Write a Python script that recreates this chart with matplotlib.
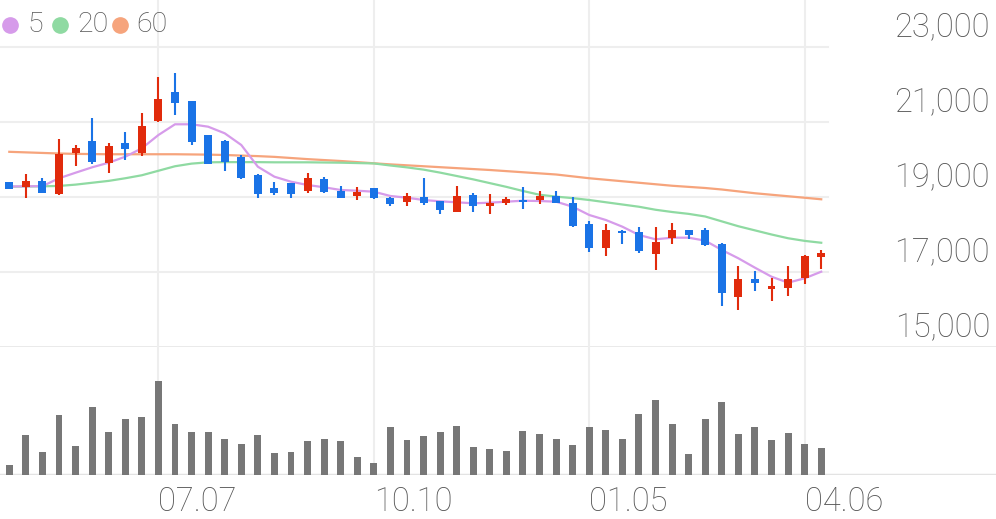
import numpy as np
import matplotlib
matplotlib.use("Agg")
import matplotlib.pyplot as plt

plt.rcParams['font.family'] = ['Roboto', 'DejaVu Sans']

# weekly candles
opens = [19392, 19267, 19435, 19072, 20181, 20501, 19915, 20448, 20181, 21027,
         21808, 21552, 20653, 20501, 20059, 19587, 19248, 19365, 19160, 19472,
         19168, 19027, 19232, 18981, 18875, 18992, 18893, 18608, 19053, 18768,
         18832, 18928, 18920, 19027, 18832, 18272, 17632, 18101, 18075, 17480,
         17915, 18120, 18120, 17747, 16341, 16813, 16539, 16581, 16832, 17408]
highs = [19400, 19605, 19499, 20539, 20387, 21099, 20432, 20725, 21232, 22192,
         22299, 21560, 20660, 20510, 20120, 19600, 19408, 19370, 19632, 19525,
         19301, 19275, 19240, 18990, 19099, 19499, 18900, 19293, 19099, 19080,
         19000, 19275, 19160, 19160, 19008, 18368, 18280, 18110, 18192, 18208,
         18299, 18125, 18165, 17760, 17160, 17035, 16832, 17168, 17440, 17587]
lows = [19200, 18973, 19100, 19053, 19827, 19880, 19648, 19987, 20093, 21008,
        21187, 20387, 19870, 19693, 19480, 18965, 19053, 18981, 19099, 19110,
        18965, 18920, 18947, 18760, 18760, 18787, 18547, 18600, 18608, 18547,
        18787, 18672, 18813, 18840, 18200, 17525, 17427, 17747, 17499, 17053,
        17747, 17880, 17693, 16093, 15987, 16501, 16235, 16360, 16680, 17080]
closes = [19213, 19435, 19115, 20147, 20315, 19933, 20368, 20280, 20901, 21605,
          21499, 20467, 19880, 19941, 19499, 19080, 19115, 19080, 19499, 19125,
          18981, 19141, 18981, 18805, 19027, 18848, 18653, 19035, 18768, 18832,
          18939, 18875, 19035, 18848, 18227, 17632, 18120, 18048, 17568, 17808,
          18120, 17987, 17720, 16432, 16821, 16699, 16619, 16805, 17427, 17515]
volumes = [103, 400, 230, 600, 290, 677, 427, 560, 580, 937,
           510, 433, 430, 360, 313, 397, 220, 230, 340, 363,
           340, 180, 117, 480, 350, 387, 430, 487, 277, 257,
           237, 443, 407, 357, 303, 480, 447, 357, 613, 750,
           510, 213, 557, 730, 413, 480, 347, 423, 310, 270]

ma5 = [19280, 19285, 19290, 19499, 19648, 19792, 19915, 20075, 20299, 20653,
       20939, 20939, 20875, 20699, 20387, 19808, 19541, 19408, 19320, 19259,
       19187, 19168, 19141, 19027, 18981, 18920, 18885, 18859, 18832, 18848,
       18875, 18901, 18893, 18875, 18741, 18520, 18387, 18208, 17987, 17872,
       17915, 17915, 17835, 17587, 17365, 17115, 16875, 16715, 16832, 17008]
ma20 = [19275, 19280, 19285, 19295, 19330, 19380, 19430, 19500, 19580, 19700,
        19820, 19890, 19925, 19930, 19930, 19930, 19925, 19925, 19925, 19920,
        19915, 19905, 19895, 19840, 19790, 19730, 19650, 19560, 19470, 19370,
        19270, 19160, 19060, 19010, 18970, 18920, 18860, 18800, 18740, 18660,
        18600, 18550, 18480, 18350, 18220, 18110, 18000, 17900, 17830, 17780]
ma60 = [20205, 20190, 20175, 20160, 20150, 20145, 20140, 20140, 20140, 20140,
        20140, 20135, 20130, 20120, 20105, 20090, 20070, 20040, 20010, 19985,
        19960, 19930, 19899, 19870, 19845, 19820, 19795, 19770, 19745, 19720,
        19690, 19660, 19630, 19600, 19550, 19500, 19460, 19420, 19380, 19340,
        19300, 19270, 19240, 19200, 19150, 19100, 19060, 19020, 18980, 18939]

tick_pos = [9, 22, 35, 48]
tick_labels = ['07.07', '10.10', '01.05', '04.06']
price_ticks = [15000, 17000, 19000, 21000, 23000]
ma_names = ['5', '20', '60']

UP = '#e12b0c'
DOWN = '#1a73e6'
MA_COLORS = ['#d69bea', '#8fdaa2', '#f6a47c']
TXT = '#555555'
GRID = '#eeeeee'

W, H = 996, 519
fig = plt.figure(figsize=(W / 100, H / 100), dpi=100, facecolor='white')

# pixel layout
step = 16.57
x0 = 9.3
xlim = (-x0 / step, (W - x0) / step)
ax = fig.add_axes([0, (H - 347) / H, 1, 347 / H])
axv = fig.add_axes([0, (H - 475) / H, 1, 128 / H])

ppx = 0.0375  # px per price unit
ax.set_xlim(*xlim)
ax.set_ylim(15000, 23000 + 47 / ppx)
axv.set_xlim(*xlim)
axv.set_ylim(0, 1280)
for a in (ax, axv):
    a.axis('off')

x = np.arange(len(closes))
o = np.array(opens); c = np.array(closes)
h = np.array(highs); l = np.array(lows)
up = c >= o
colors = np.where(up, UP, DOWN)

# grid
grid_right = 828 / W
for p in price_ticks[1:]:
    ax.axhline(p, xmin=0, xmax=grid_right, color=GRID, lw=1.5, zorder=0)
ax.axhline(15000, color='#e8e8e8', lw=2, zorder=0)
axv.axhline(0, color='#e3e3e3', lw=2.5, zorder=0)
for t in tick_pos:
    ax.axvline(t, color=GRID, lw=1.5, zorder=0)
    axv.axvline(t, color=GRID, lw=1.5, zorder=0)

# moving averages
for vals, col in zip([ma60, ma20, ma5], MA_COLORS[::-1]):
    ax.plot(x, vals, color=col, lw=1.6, zorder=2)

# candles
ax.vlines(x, l, h, colors=colors, lw=1.5, zorder=3)
body = np.maximum(np.abs(c - o), 55)
ax.bar(x, body, bottom=np.minimum(o, c), width=0.48, color=colors, zorder=4)

# volume
axv.bar(x, volumes, width=0.42, color='#777777', zorder=2)

# price labels
for p in price_ticks:
    ax.text(990 / W, p + 540, f'{p:,}', transform=ax.get_yaxis_transform(),
            ha='right', va='center', fontsize=23.5, color=TXT,
            fontweight='light')

# date labels
for t, lab in zip(tick_pos, tick_labels):
    fig.text((t * step + x0) / W, 1 - 502 / H, lab, ha='left', va='center',
             fontsize=23.5, color=TXT, fontweight='light')

# legend
leg = [(10, 27), (60, 77), (120, 136)]
for (cx, tx), name, col in zip(leg, ma_names, MA_COLORS):
    fig.lines.append(plt.Line2D([cx / W], [1 - 25 / H], marker='o', ms=11,
                                color=col, transform=fig.transFigure))
    fig.text(tx / W, 1 - 25 / H, name, ha='left', va='center', fontsize=20.5,
             color=TXT, fontweight='light')

fig.savefig('out.png', dpi=100, facecolor='white')
